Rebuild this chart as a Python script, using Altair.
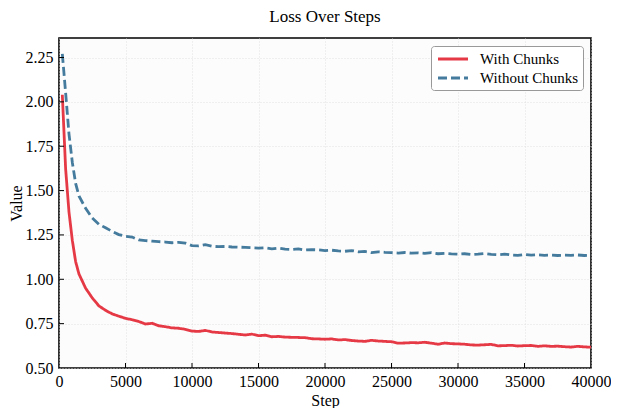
import altair as alt
import pandas as pd

steps = [250, 500, 750, 1000, 1250, 1500] + list(range(2000, 40001, 500))

with_chunks = [2.04, 1.62, 1.38, 1.22, 1.10, 1.03,
    0.95, 0.895, 0.85, 0.825, 0.805, 0.792, 0.78, 0.772, 0.762, 0.748,
    0.752, 0.738, 0.733, 0.726, 0.724, 0.718, 0.708, 0.706, 0.712, 0.703,
    0.700, 0.697, 0.694, 0.690, 0.686, 0.691, 0.682, 0.685, 0.676, 0.678,
    0.674, 0.673, 0.672, 0.671, 0.665, 0.664, 0.662, 0.664, 0.658, 0.660,
    0.655, 0.652, 0.650, 0.656, 0.652, 0.650, 0.648, 0.640, 0.641, 0.643,
    0.642, 0.645, 0.640, 0.634, 0.641, 0.637, 0.636, 0.634, 0.630, 0.629,
    0.631, 0.633, 0.625, 0.626, 0.628, 0.624, 0.626, 0.627, 0.622, 0.625,
    0.622, 0.623, 0.620, 0.618, 0.622, 0.619, 0.617]

without_chunks = [2.27, 2.05, 1.82, 1.66, 1.54, 1.47,
    1.40, 1.345, 1.31, 1.29, 1.27, 1.252, 1.242, 1.238, 1.222, 1.218,
    1.215, 1.212, 1.210, 1.206, 1.208, 1.204, 1.190, 1.188, 1.195, 1.186,
    1.184, 1.185, 1.182, 1.181, 1.180, 1.178, 1.176, 1.178, 1.172, 1.176,
    1.170, 1.168, 1.171, 1.165, 1.167, 1.166, 1.162, 1.164, 1.160, 1.158,
    1.162, 1.155, 1.157, 1.150, 1.155, 1.152, 1.150, 1.148, 1.151, 1.147,
    1.149, 1.146, 1.150, 1.144, 1.146, 1.143, 1.142, 1.144, 1.140, 1.142,
    1.145, 1.140, 1.138, 1.142, 1.137, 1.135, 1.140, 1.136, 1.138, 1.135,
    1.137, 1.134, 1.136, 1.135, 1.137, 1.134, 1.136]

series_names = ["With Chunks", "Without Chunks"]
series_colors = ["#E63946", "#457B9D"]
x_ticks = [0, 5000, 10000, 15000, 20000, 25000, 30000, 35000, 40000]
y_ticks = [0.5, 0.75, 1.0, 1.25, 1.5, 1.75, 2.0, 2.25]

rows = []
for s, a, b in zip(steps, with_chunks, without_chunks):
    rows.append({"Step": s, "Value": a, "Series": series_names[0]})
    rows.append({"Step": s, "Value": b, "Series": series_names[1]})
df = pd.DataFrame(rows)

FONT = "Liberation Serif"
W, H = 532, 330

xscale = alt.Scale(domain=[0, 40000], nice=False)
yscale = alt.Scale(domain=[0.5, 2.36], nice=False)

legend = alt.Legend(title=None, orient="top-right", offset=8,
                    symbolType="M-2,0L2,0", symbolStrokeWidth=3,
                    symbolSize=225, labelFont=FONT, labelFontSize=15,
                    labelColor="black", labelOffset=18,
                    fillColor="white", strokeColor="#999999",
                    padding=4, cornerRadius=3, rowPadding=2,
                    symbolOffset=9)

lines = alt.Chart(df).mark_line(strokeWidth=2.8).encode(
    x=alt.X("Step:Q", scale=xscale, title="Step",
            axis=alt.Axis(values=x_ticks, format="d", ticks=False, labelPadding=5,
                          labelFlush=False,
                          grid=True, gridColor="#dcdcdc", gridDash=[1, 2], gridWidth=0.8)),
    y=alt.Y("Value:Q", scale=yscale, title="Value",
            axis=alt.Axis(values=y_ticks, format=".2f", ticks=False, labelPadding=6,
                          labelFlush=False,
                          grid=True, gridColor="#dcdcdc", gridDash=[1, 2], gridWidth=0.8)),
    color=alt.Color("Series:N", scale=alt.Scale(domain=series_names, range=series_colors),
                    legend=legend),
    strokeDash=alt.StrokeDash("Series:N", scale=alt.Scale(domain=series_names, range=[[1, 0], [9, 4]]),
                              legend=legend),
)

xt = pd.DataFrame({"t": x_ticks[1:-1]})
yt = pd.DataFrame({"t": y_ticks[1:]})
xticks_bottom = alt.Chart(xt).mark_rule(color="black", strokeWidth=1).encode(
    x=alt.X("t:Q", scale=xscale), y=alt.value(H), y2=alt.value(H - 5))
yticks_left = alt.Chart(yt).mark_rule(color="black", strokeWidth=1).encode(
    y=alt.Y("t:Q", scale=yscale), x=alt.value(0), x2=alt.value(5))

chart = alt.layer(lines, xticks_bottom, yticks_left).properties(
    width=W, height=H,
    title=alt.Title("Loss Over Steps", font=FONT, fontSize=17, fontWeight="normal",
                    color="black", offset=12),
    autosize=alt.AutoSizeParams(type="none"),
    padding={"left": 51, "top": 30, "right": 20, "bottom": 40},
).configure_view(
    stroke="black", strokeWidth=1.6, fill="#fcfcfc"
).configure_axis(
    labelFont=FONT, labelFontSize=16, labelColor="black",
    titleFont=FONT, titleFontSize=16, titleFontWeight="normal", titleColor="black",
    domain=False,
).configure_axisX(titlePadding=3).configure_axisY(titlePadding=1)

chart.save("out.html", embed_options={"renderer": "svg", "actions": False})
